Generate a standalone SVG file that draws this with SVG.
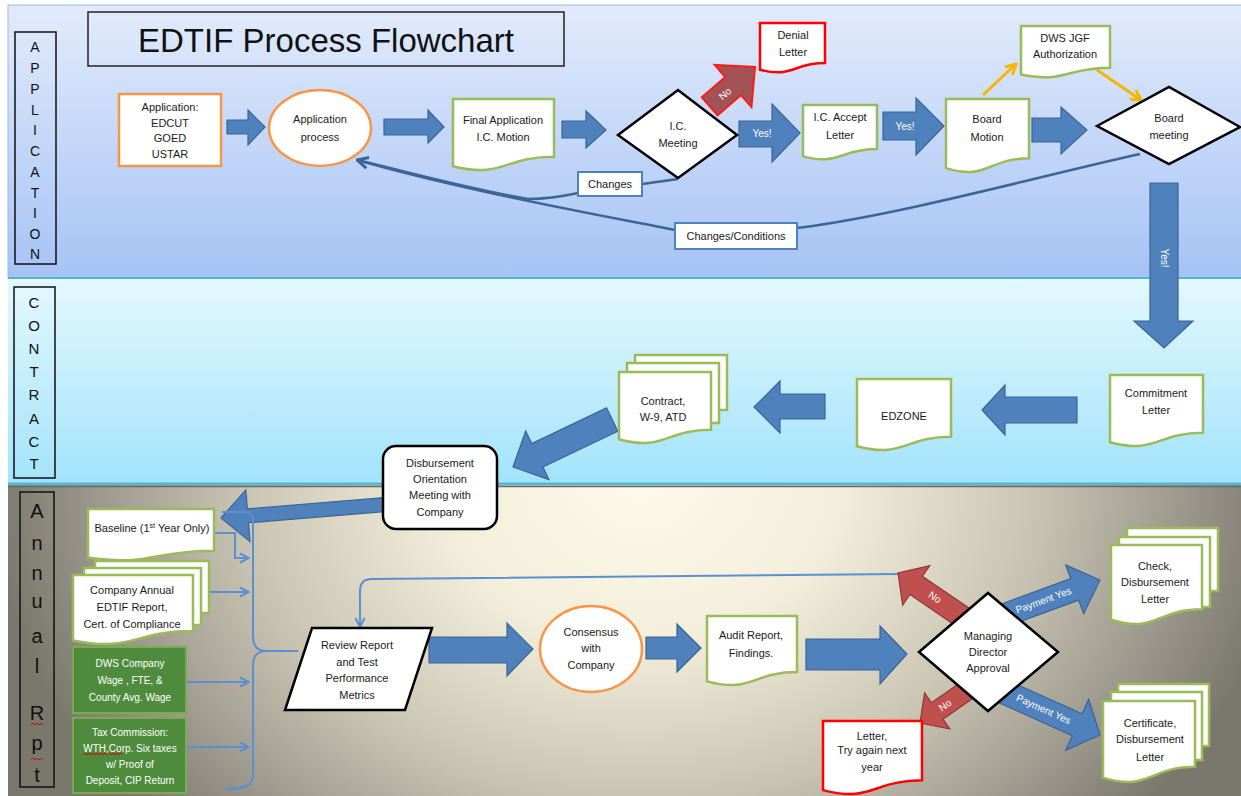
<svg xmlns="http://www.w3.org/2000/svg" width="1241" height="796" viewBox="0 0 1241 796">
<defs>
<linearGradient id="gApp" x1="0" y1="0" x2="0" y2="1"><stop offset="0" stop-color="#e2ebfb"/><stop offset="1" stop-color="#a6c3f5"/></linearGradient>
<linearGradient id="gCon" x1="0" y1="0" x2="0" y2="1"><stop offset="0" stop-color="#e4f8fd"/><stop offset="1" stop-color="#a2e3fb"/></linearGradient>
<radialGradient id="gAnn" gradientUnits="userSpaceOnUse" cx="640" cy="480" r="650" gradientTransform="translate(0,480) scale(1,0.8) translate(0,-480)">
<stop offset="0" stop-color="#fdfaea"/><stop offset="0.3" stop-color="#f4efdc"/><stop offset="0.6" stop-color="#cbc6b4"/><stop offset="0.85" stop-color="#99958a"/><stop offset="1" stop-color="#7a776c"/></radialGradient>
<marker id="mFb" markerUnits="userSpaceOnUse" viewBox="0 0 14 14" refX="13" refY="7" markerWidth="14" markerHeight="14" orient="auto"><path d="M2,1.5 L13,7 L2,12.5" fill="none" stroke="#3c6595" stroke-width="2.5"/></marker>
<marker id="mThin" markerUnits="userSpaceOnUse" viewBox="0 0 12 12" refX="11" refY="6" markerWidth="12" markerHeight="12" orient="auto"><path d="M2,1.5 L11,6 L2,10.5" fill="none" stroke="#5b8fd2" stroke-width="2"/></marker>
<marker id="mYel" markerUnits="userSpaceOnUse" viewBox="0 0 14 14" refX="12" refY="7" markerWidth="14" markerHeight="14" orient="auto"><path d="M2,1.5 L12,7 L2,12.5" fill="none" stroke="#f5b500" stroke-width="3"/></marker>
<style>
.t{font-family:"Liberation Sans",Arial,sans-serif;font-size:11px;fill:#1a1a1a;text-anchor:middle}
.tw{font-family:"Liberation Sans",Arial,sans-serif;font-size:10px;fill:#ffffff;text-anchor:middle}
.ln{font-family:"Liberation Sans",Arial,sans-serif;fill:#111;text-anchor:middle}
.dg{fill:#fff;stroke:#9bbb59;stroke-width:2.5}
.dr{fill:#fff;stroke:#ff0000;stroke-width:2.5}
.el{fill:#fff;stroke:#f79646;stroke-width:2.5}
.di{fill:#fff;stroke:#000;stroke-width:2.5}
.bk{fill:#4f81bd;stroke:#3b6495;stroke-width:1.2}
.r1{fill:#a35353;stroke:#ff1a1a;stroke-width:2}
.r2{fill:#c0504d;stroke:#8c3836;stroke-width:1.2}
.lb{fill:#fff;stroke:#4f81bd;stroke-width:2}
.fb{fill:none;stroke:#3c6595;stroke-width:2.5}
.th{fill:none;stroke:#5b8fd2;stroke-width:2}
.ye{fill:none;stroke:#f5b500;stroke-width:3}
.gr{fill:#4e8b3c;stroke:#7aab50;stroke-width:2}
.sq{fill:none;stroke:#e00000;stroke-width:1}
</style>
</defs>
<rect width="1241" height="796" fill="#fff"/>
<g id="lanes">
<rect x="8" y="5" width="1240" height="273" fill="url(#gApp)" stroke="#9db9dd" stroke-width="1"/>
<rect x="8" y="278" width="1240" height="206" fill="url(#gCon)"/>
<rect x="8" y="485" width="1240" height="320" fill="url(#gAnn)"/>
<line x1="8" y1="278" x2="1241" y2="278" stroke="#55b6d0" stroke-width="2"/>
<line x1="8" y1="484" x2="1241" y2="484" stroke="#55b6d0" stroke-width="3"/>
<line x1="8" y1="486.5" x2="1241" y2="486.5" stroke="#6a675d" stroke-width="1.5"/>
<rect x="15" y="32" width="41" height="232" fill="none" stroke="#111" stroke-width="1.5"/>
<text class="ln" font-size="14"><tspan x="35" y="52">A</tspan><tspan x="35" y="73">P</tspan><tspan x="35" y="94">P</tspan><tspan x="35" y="115">L</tspan><tspan x="35" y="135">I</tspan><tspan x="35" y="156">C</tspan><tspan x="35" y="177">A</tspan><tspan x="35" y="198">T</tspan><tspan x="35" y="218">I</tspan><tspan x="35" y="239">O</tspan><tspan x="35" y="259">N</tspan></text>
<rect x="14" y="287" width="41" height="191" fill="none" stroke="#111" stroke-width="1.5"/>
<text class="ln" font-size="15"><tspan x="34" y="308">C</tspan><tspan x="34" y="331">O</tspan><tspan x="34" y="354">N</tspan><tspan x="34" y="377">T</tspan><tspan x="34" y="400">R</tspan><tspan x="34" y="424">A</tspan><tspan x="34" y="447">C</tspan><tspan x="34" y="469">T</tspan></text>
<rect x="20" y="492" width="34" height="295" fill="none" stroke="#111" stroke-width="1.5"/>
<text class="ln" font-size="20"><tspan x="37" y="518">A</tspan><tspan x="37" y="550">n</tspan><tspan x="37" y="580">n</tspan><tspan x="37" y="608">u</tspan><tspan x="37" y="643">a</tspan><tspan x="37" y="673">l</tspan><tspan x="37" y="720">R</tspan><tspan x="37" y="750">p</tspan><tspan x="37" y="782">t</tspan></text>
<path class="sq" d="M31,725 l2,-2 l2,2 l2,-2 l2,2 l2,-2 l2,2"/>
<path class="sq" d="M31,760 l2,-2 l2,2 l2,-2 l2,2 l2,-2 l2,2"/>
</g>
<g id="title">
<rect x="88" y="12" width="476" height="54" fill="none" stroke="#222" stroke-width="1.5"/>
<text x="326" y="52" font-family="Liberation Sans,Arial,sans-serif" font-size="33" fill="#111" text-anchor="middle">EDTIF Process Flowchart</text>
</g>
<g id="connectors">
<path class="bk" d="M227,120 L248,120 L248,110 L265,127 L248,145 L248,134 L227,134 Z"/>
<path class="bk" d="M384,119 L428,119 L428,110 L444,127 L428,143 L428,135 L384,135 Z"/>
<path class="bk" d="M562,121 L586,121 L586,111 L606,130 L586,148 L586,138 L562,138 Z"/>
<path class="bk" d="M739,121 L772,121 L772,104 L800,133 L772,162 L772,147 L739,147 Z"/>
<text class="tw" x="762" y="137">Yes!</text>
<path class="bk" d="M883,112 L916,112 L916,98 L944,126 L916,155 L916,140 L883,140 Z"/>
<text class="tw" x="905" y="130">Yes!</text>
<path class="bk" d="M1032,118 L1061,118 L1061,107 L1087,130 L1061,154 L1061,142 L1032,142 Z"/>
<g transform="translate(755,67) rotate(-41)"><path class="r1" d="M-60,-12 L-29,-12 L-29,-28 L0,0 L-29,28 L-29,12 L-60,12 Z"/><text class="tw" x="-40" y="4">No</text></g>
<line class="ye" x1="983" y1="95" x2="1016" y2="64" marker-end="url(#mYel)"/>
<line class="ye" x1="1097" y1="70" x2="1141" y2="100" marker-end="url(#mYel)"/>
<path class="fb" d="M1140,154 C1040,176 900,215 797,228 L675,230 C600,215 470,192 357,160" marker-end="url(#mFb)"/>
<path class="fb" d="M678,179 L578,193 C560,197 545,199 528,199 C470,189 420,175 357,160" marker-end="url(#mFb)"/>
<path class="bk" d="M1150,183 L1178,183 L1178,321 L1193,321 L1164,348 L1134,321 L1150,321 Z"/>
<text class="tw" transform="translate(1161,258) rotate(90)" x="0" y="0">Yes!</text>
<path class="bk" d="M1077,397 L1005,397 L1005,385 L982,410 L1005,435 L1005,423 L1077,423 Z"/>
<path class="bk" d="M825,394 L780,394 L780,381 L754,407 L780,433 L780,419 L825,419 Z"/>
<path class="bk" transform="translate(513,467) rotate(154.4)" d="M-110,-13 L-27,-13 L-27,-27 L0,0 L-27,27 L-27,13 L-110,13 Z"/>
<path class="bk" transform="translate(221,518) rotate(175.3)" d="M-170,-7 L-27,-7 L-27,-26 L0,0 L-27,26 L-27,7 L-170,7 Z"/>
<path class="th" d="M214,533 H235 V558 H249" marker-end="url(#mThin)"/>
<path class="th" d="M208,592 H249" marker-end="url(#mThin)"/>
<path class="th" d="M186,682 H249" marker-end="url(#mThin)"/>
<path class="th" d="M186,747 H249" marker-end="url(#mThin)"/>
<path class="th" d="M222,512 H245 Q253,512 253,520 V637 C253,646 258,651 267,651 C258,651 253,656 253,665 V775 C253,785 246,789 226,789 M267,651 H298"/>
<path class="th" d="M900,574 L372,579 Q360,579 360,591 V627" marker-end="url(#mThin)"/>
<path class="bk" d="M429,637 L507,637 L507,623 L533,649 L507,676 L507,663 L429,663 Z"/>
<path class="bk" d="M646,637 L677,637 L677,624 L701,648 L677,672 L677,659 L646,659 Z"/>
<path class="bk" d="M806,639 L880,639 L880,626 L907,654 L880,684 L880,670 L806,670 Z"/>
<g transform="translate(898,573) rotate(-145.7)"><path class="r2" d="M-80,-11 L-22,-11 L-22,-24 L0,0 L-22,24 L-22,11 L-80,11 Z"/></g>
<text class="tw" transform="translate(933,600) rotate(34.3)">No</text>
<g transform="translate(920,723) rotate(145)"><path class="r2" d="M-65,-10 L-21,-10 L-21,-22 L0,0 L-21,22 L-21,10 L-65,10 Z"/></g>
<text class="tw" transform="translate(947,708) rotate(-35)">No</text>
<g transform="translate(1100,580) rotate(-20.2)"><path class="bk" d="M-100,-11.5 L-27,-11.5 L-27,-26 L0,0 L-27,26 L-27,11.5 L-100,11.5 Z"/><text class="tw" font-size="9" x="-60" y="3">Payment Yes</text></g>
<g transform="translate(1100,735) rotate(24.2)"><path class="bk" d="M-110,-12 L-25,-12 L-25,-28 L0,0 L-25,28 L-25,12 L-110,12 Z"/><text class="tw" font-size="9" x="-62" y="3">Payment Yes</text></g>
</g>
<g id="n-app"><rect x="119" y="94" width="102" height="72" fill="#fff" stroke="#f79646" stroke-width="2.5"/><text class="t"><tspan x="170" y="111">Application:</tspan><tspan x="170" y="127">EDCUT</tspan><tspan x="170" y="142">GOED</tspan><tspan x="170" y="158">USTAR</tspan></text></g>
<g id="n-appproc"><ellipse class="el" cx="320" cy="128" rx="51" ry="38"/><text class="t" font-size="10.5"><tspan x="320" y="123">Application</tspan><tspan x="320" y="141">process</tspan></text></g>
<g id="n-final"><path class="dg" d="M453,99 H554 V156.7 C503.5,156.7 503.5,178.7 453,166.2 Z"/><text class="t"><tspan x="503" y="124">Final Application</tspan><tspan x="503" y="141">I.C. Motion</tspan></text></g>
<g id="n-icmeet"><path class="di" d="M618,135 L678,90 L737,135 L678,178 Z"/><text class="t"><tspan x="678" y="130">I.C.</tspan><tspan x="678" y="147">Meeting</tspan></text></g>
<g id="n-denial"><path class="dr" d="M760,23 H825 V63.1 C792.5,63.1 792.5,78.4 760,69.7 Z"/><text class="t"><tspan x="793" y="39">Denial</tspan><tspan x="793" y="56">Letter</tspan></text></g>
<g id="n-accept"><path class="dg" d="M803,105 H877 V149.1 C840,149.1 840,165.9 803,156.4 Z"/><text class="t"><tspan x="840" y="121">I.C. Accept</tspan><tspan x="840" y="139">Letter</tspan></text></g>
<g id="n-bmotion"><path class="dg" d="M946,99 H1029 V158.3 C987.5,158.3 987.5,180.9 946,168.1 Z"/><text class="t"><tspan x="987" y="123">Board</tspan><tspan x="987" y="141">Motion</tspan></text></g>
<g id="n-dws"><path class="dg" d="M1021,26 H1110 V67.7 C1065.5,67.7 1065.5,83.6 1021,74.6 Z"/><text class="t"><tspan x="1065" y="42">DWS JGF</tspan><tspan x="1065" y="58">Authorization</tspan></text></g>
<g id="n-bmeet"><path class="di" d="M1097,126 L1169,87 L1240,127 L1169,164 Z"/><text class="t"><tspan x="1169" y="122">Board</tspan><tspan x="1169" y="139">meeting</tspan></text></g>
<g id="n-changes"><rect class="lb" x="578" y="172" width="64" height="24"/><text class="t" x="610" y="188">Changes</text></g>
<g id="n-changescond"><rect class="lb" x="675" y="223" width="122" height="26"/><text class="t" x="736" y="240">Changes/Conditions</text></g>
<g id="n-commit"><path class="dg" d="M1110,375 H1203 V432.7 C1156.5,432.7 1156.5,454.7 1110,442.2 Z"/><text class="t"><tspan x="1156" y="397">Commitment</tspan><tspan x="1156" y="414">Letter</tspan></text></g>
<g id="n-edzone"><path class="dg" d="M857,379 H951 V436.7 C904,436.7 904,458.7 857,446.2 Z"/><text class="t" x="904" y="420">EDZONE</text></g>
<g id="n-contract"><rect class="dg" x="635" y="355" width="92" height="55"/><rect class="dg" x="627" y="363" width="92" height="60"/><path class="dg" d="M619,372 H711 V429.7 C665,429.7 665,451.7 619,439.2 Z"/><text class="t"><tspan x="663" y="405">Contract,</tspan><tspan x="663" y="421">W-9, ATD</tspan></text></g>
<g id="n-disb"><rect x="383" y="446" width="114" height="83" rx="13" fill="#fff" stroke="#000" stroke-width="2.5"/><text class="t"><tspan x="440" y="467">Disbursement</tspan><tspan x="440" y="483">Orientation</tspan><tspan x="440" y="499">Meeting with</tspan><tspan x="440" y="516">Company</tspan></text></g>
<g id="n-baseline"><path class="dg" d="M88,509 H214 V550.7 C151,550.7 151,566.6 88,557.6 Z"/><text class="t" font-size="10.5" x="152" y="532">Baseline (1<tspan font-size="7" dy="-4">st</tspan><tspan dy="4"> Year Only)</tspan></text></g>
<g id="n-annual"><rect class="dg" x="95" y="561" width="114" height="52"/><rect class="dg" x="84" y="568" width="117" height="57"/><path class="dg" d="M73,575 H193 V631.1 C133,631.1 133,652.5 73,640.4 Z"/><text class="t"><tspan x="132" y="594">Company Annual</tspan><tspan x="132" y="611">EDTIF Report,</tspan><tspan x="132" y="628">Cert. of Compliance</tspan></text></g>
<g id="n-dwswage"><rect class="gr" x="73" y="647" width="113" height="66"/><text class="tw" font-size="11"><tspan x="130" y="667">DWS Company</tspan><tspan x="130" y="684">Wage , FTE, &amp;</tspan><tspan x="130" y="701">County Avg. Wage</tspan></text></g>
<g id="n-tax"><rect class="gr" x="73" y="718" width="113" height="75"/><text class="tw" font-size="11"><tspan x="130" y="736">Tax Commission:</tspan><tspan x="130" y="752">WTH,Corp. Six taxes</tspan><tspan x="130" y="768">w/ Proof of</tspan><tspan x="130" y="784">Deposit, CIP Return</tspan></text><path class="sq" d="M83,755 l2,-2 l2,2 l2,-2 l2,2 l2,-2 l2,2 l2,-2 l2,2 l2,-2 l2,2 l2,-2 l2,2 l2,-2 l2,2 l2,-2 l2,2 l2,-2 l2,2 l2,-2 l2,2"/></g>
<g id="n-review"><path class="di" d="M312,628 L432,628 L405,710 L285,710 Z"/><text class="t"><tspan x="357" y="649">Review Report</tspan><tspan x="357" y="666">and Test</tspan><tspan x="357" y="682">Performance</tspan><tspan x="357" y="699">Metrics</tspan></text></g>
<g id="n-consensus"><ellipse class="el" cx="591" cy="649" rx="51" ry="43"/><text class="t"><tspan x="591" y="636">Consensus</tspan><tspan x="591" y="652">with</tspan><tspan x="591" y="669">Company</tspan></text></g>
<g id="n-audit"><path class="dg" d="M707,616 H797 V672.1 C752,672.1 752,693.5 707,681.4 Z"/><text class="t"><tspan x="751" y="639">Audit Report,</tspan><tspan x="751" y="657">Findings.</tspan></text></g>
<g id="n-managing"><path class="di" d="M919,652 L988,593 L1058,652 L988,711 Z"/><text class="t"><tspan x="988" y="640">Managing</tspan><tspan x="988" y="656">Director</tspan><tspan x="988" y="672">Approval</tspan></text></g>
<g id="n-check"><rect class="dg" x="1127" y="528" width="91" height="63"/><rect class="dg" x="1119" y="537" width="91" height="70"/><path class="dg" d="M1111,545 H1202 V609.2 C1156.5,609.2 1156.5,633.6 1111,619.7 Z"/><text class="t"><tspan x="1155" y="570">Check,</tspan><tspan x="1155" y="586">Disbursement</tspan><tspan x="1155" y="603">Letter</tspan></text></g>
<g id="n-cert"><rect class="dg" x="1118" y="684" width="91" height="62"/><rect class="dg" x="1111" y="692" width="91" height="68"/><path class="dg" d="M1103,701 H1195 V766.8 C1149,766.8 1149,791.8 1103,777.6 Z"/><text class="t"><tspan x="1150" y="727">Certificate,</tspan><tspan x="1150" y="743">Disbursement</tspan><tspan x="1150" y="761">Letter</tspan></text></g>
<g id="n-tryagain"><path class="dr" d="M823,721 H922 V780.3 C872.5,780.3 872.5,802.9 823,790.1 Z"/><text class="t"><tspan x="872" y="740">Letter,</tspan><tspan x="872" y="754">Try again next</tspan><tspan x="872" y="771">year</tspan></text></g>
</svg>
